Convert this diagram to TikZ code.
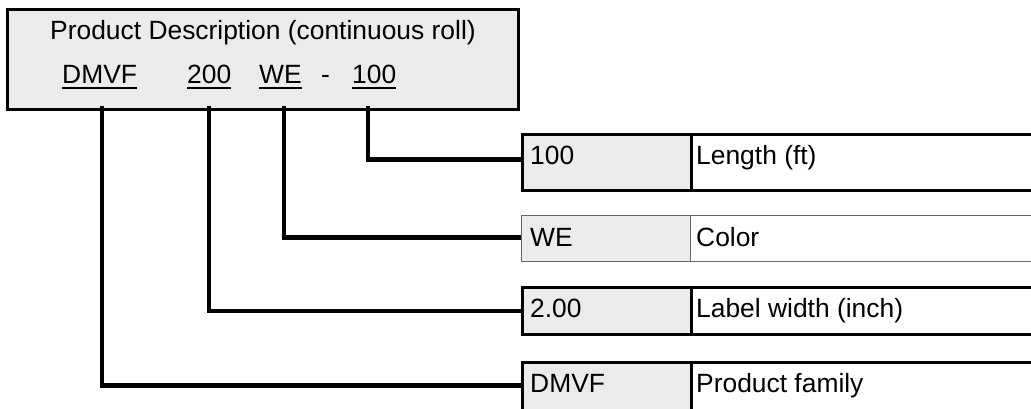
\documentclass[tikz,border=0pt]{standalone}
\usepackage{fontspec}
\setmainfont{Liberation Sans}
\definecolor{cellgray}{HTML}{EBEBEB}
\begin{document}
\begin{tikzpicture}[x=1pt,y=-1pt,
  txt/.style={font=\fontsize{26.4}{30}\selectfont, inner sep=0pt, anchor=base west},
  conn/.style={line width=4.5pt, line join=miter},
  cell/.style={draw, rectangle, inner sep=0pt, anchor=north west, line width=2.5pt},
  codecell/.style={cell, fill=cellgray, minimum width=169pt},
  desccell/.style={cell, fill=white, minimum width=345pt},
  thincell/.style={draw=black!60, line width=1.2pt},
  uline/.style={line width=2pt}
]
\useasboundingbox (0,0) rectangle (1031,408);
\clip (0,0) rectangle (1031,408);

% header box
\node[draw, line width=2.8pt, fill=cellgray, rectangle, inner sep=0pt,
      minimum width=511pt, minimum height=100pt, anchor=north west] (desc) at (6,8) {};
\node[txt, anchor=base] (title) at (263,39) {Product Description (continuous roll)};
\node[txt] (dmvf) at (62,83) {DMVF};
\node[txt] (c200) at (187,83) {200};
\node[txt] (we) at (259,83) {WE};
\node[txt] (dash) at (321,83) {-};
\node[txt] (c100) at (352,83) {100};
\foreach \n in {dmvf,c200,we,c100}{
  \draw[uline] ([yshift=-5pt]\n.base west) -- ([yshift=-5pt]\n.base east);
}

% table rows
\node[codecell, minimum height=56pt] (r1a) at (521,133) {};
\node[desccell, minimum height=56pt] (r1b) at (690,133) {};
\node[codecell, thincell, minimum height=46pt] (r2a) at (521,215) {};
\node[desccell, thincell, minimum height=46pt] (r2b) at (690,215) {};
\node[codecell, minimum height=47pt] (r3a) at (521,286) {};
\node[desccell, minimum height=47pt] (r3b) at (690,286) {};
\node[codecell, minimum height=49pt] (r4a) at (521,361) {};
\node[desccell, minimum height=49pt] (r4b) at (690,361) {};

\node[txt] (t1a) at (530,164) {100};
\node[txt] (t1b) at (696,164) {Length (ft)};
\node[txt] (t2a) at (530,246) {WE};
\node[txt] (t2b) at (696,246) {Color};
\node[txt] (t3a) at (530,317) {2.00};
\node[txt] (t3b) at (696,317) {Label width (inch)};
\node[txt] (t4a) at (530,392) {DMVF};
\node[txt] (t4b) at (696,392) {Product family};

% connectors
\coordinate (s1) at (102,106);
\coordinate (s2) at (209,106);
\coordinate (s3) at (284,106);
\coordinate (s4) at (368,106);
\draw[conn] (s4) |- ([yshift=3pt]r1a.west);
\draw[conn] (s3) |- ([yshift=1pt]r2a.west);
\draw[conn] (s2) |- (r3a.west);
\draw[conn] (s1) |- ([yshift=1.5pt]r4a.west);
\end{tikzpicture}
\end{document}
